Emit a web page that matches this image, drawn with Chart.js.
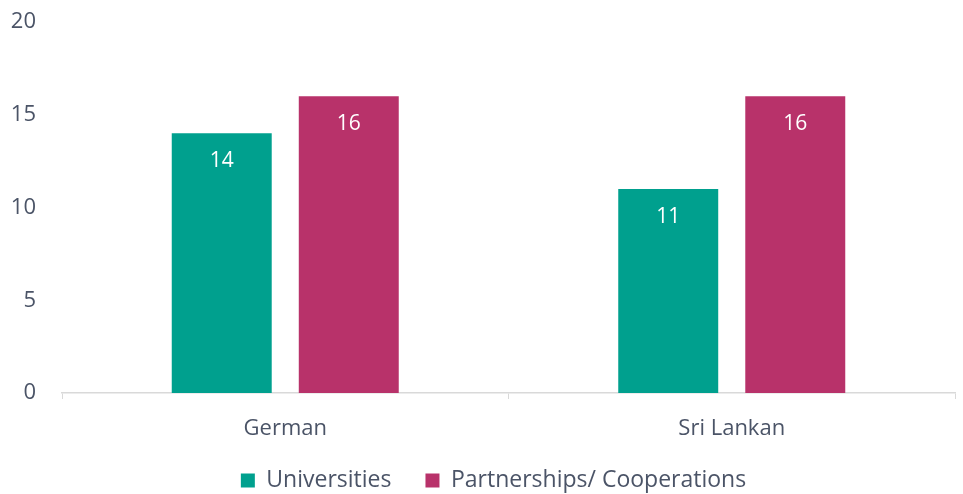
<!DOCTYPE html>
<html>
<head>
<meta charset="utf-8">
<script src="https://cdn.jsdelivr.net/npm/chart.js@4"></script>
<style>
  html, body { margin: 0; padding: 0; background: #ffffff; }
  #wrap { width: 963px; height: 494px; position: relative; }
</style>
</head>
<body>
<div id="wrap"><canvas id="c" width="963" height="494"></canvas></div>
<script>
const categories = ["German", "Sri Lankan"];
const universities = [14, 11];
const partnerships = [16, 16];
const seriesNames = ["Universities", "Partnerships/ Cooperations"];
const yTicks = [0, 5, 10, 15, 20];

const textColor = "#4b5467";
const fontFamily = "'Open Sans', 'Noto Sans', sans-serif";

const valueLabels = {
  id: "valueLabels",
  beforeLayout(chart) {
    const lg = chart.legend;
    if (lg && !lg._fixedFit) {
      const orig = lg.fit.bind(lg);
      lg.fit = function () { orig(); this.height = 59; };
      lg._fixedFit = true;
    }
  },
  afterLayout(chart) {
    const lg = chart.legend;
    if (lg) { lg.left += 16; lg.right += 16; }
  },
  afterDatasetsDraw(chart) {
    const ctx = chart.ctx;
    ctx.save();
    ctx.fillStyle = "#ffffff";
    ctx.font = "21px " + fontFamily;
    ctx.textAlign = "center";
    ctx.textBaseline = "middle";
    chart.data.datasets.forEach((ds, i) => {
      chart.getDatasetMeta(i).data.forEach((bar, j) => {
        ctx.fillText(String(ds.data[j]), bar.x, bar.y + 28);
      });
    });
    ctx.restore();
  }
};

new Chart(document.getElementById("c"), {
  type: "bar",
  data: {
    labels: categories,
    datasets: [
      { label: seriesNames[0], data: universities, backgroundColor: "#00a08e" },
      { label: seriesNames[1], data: partnerships, backgroundColor: "#b8326a" }
    ]
  },
  options: {
    responsive: false,
    animation: false,
    layout: { padding: { top: 0, right: 8, left: 0, bottom: 0 } },
    datasets: { bar: { categoryPercentage: 0.569, barPercentage: 0.787 } },
    scales: {
      x: {
        afterFit(scale) { scale.height = 42; },
        grid: { display: true, drawOnChartArea: false, drawTicks: true, tickLength: 6, color: "#d9d9d9", offset: true },
        border: { display: true, color: "#d9d9d9", width: 1.5 },
        ticks: { color: textColor, font: { family: fontFamily, size: 22 }, padding: 17 }
      },
      y: {
        min: 0, max: 20,
        afterBuildTicks(scale) { scale.ticks = yTicks.map(v => ({ value: v })); },
        afterFit(scale) { scale.width = 62; scale.paddingTop = 22; scale.paddingBottom = 0; },
        grid: { display: false },
        border: { display: false },
        ticks: { color: textColor, font: { family: fontFamily, size: 22 }, padding: 18 }
      }
    },
    plugins: {
      legend: {
        position: "bottom",
        labels: { color: textColor, font: { family: fontFamily, size: 23 }, boxWidth: 14, boxHeight: 14, padding: 34 }
      },
      tooltip: { enabled: false }
    }
  },
  plugins: [valueLabels]
});
</script>
</body>
</html>
